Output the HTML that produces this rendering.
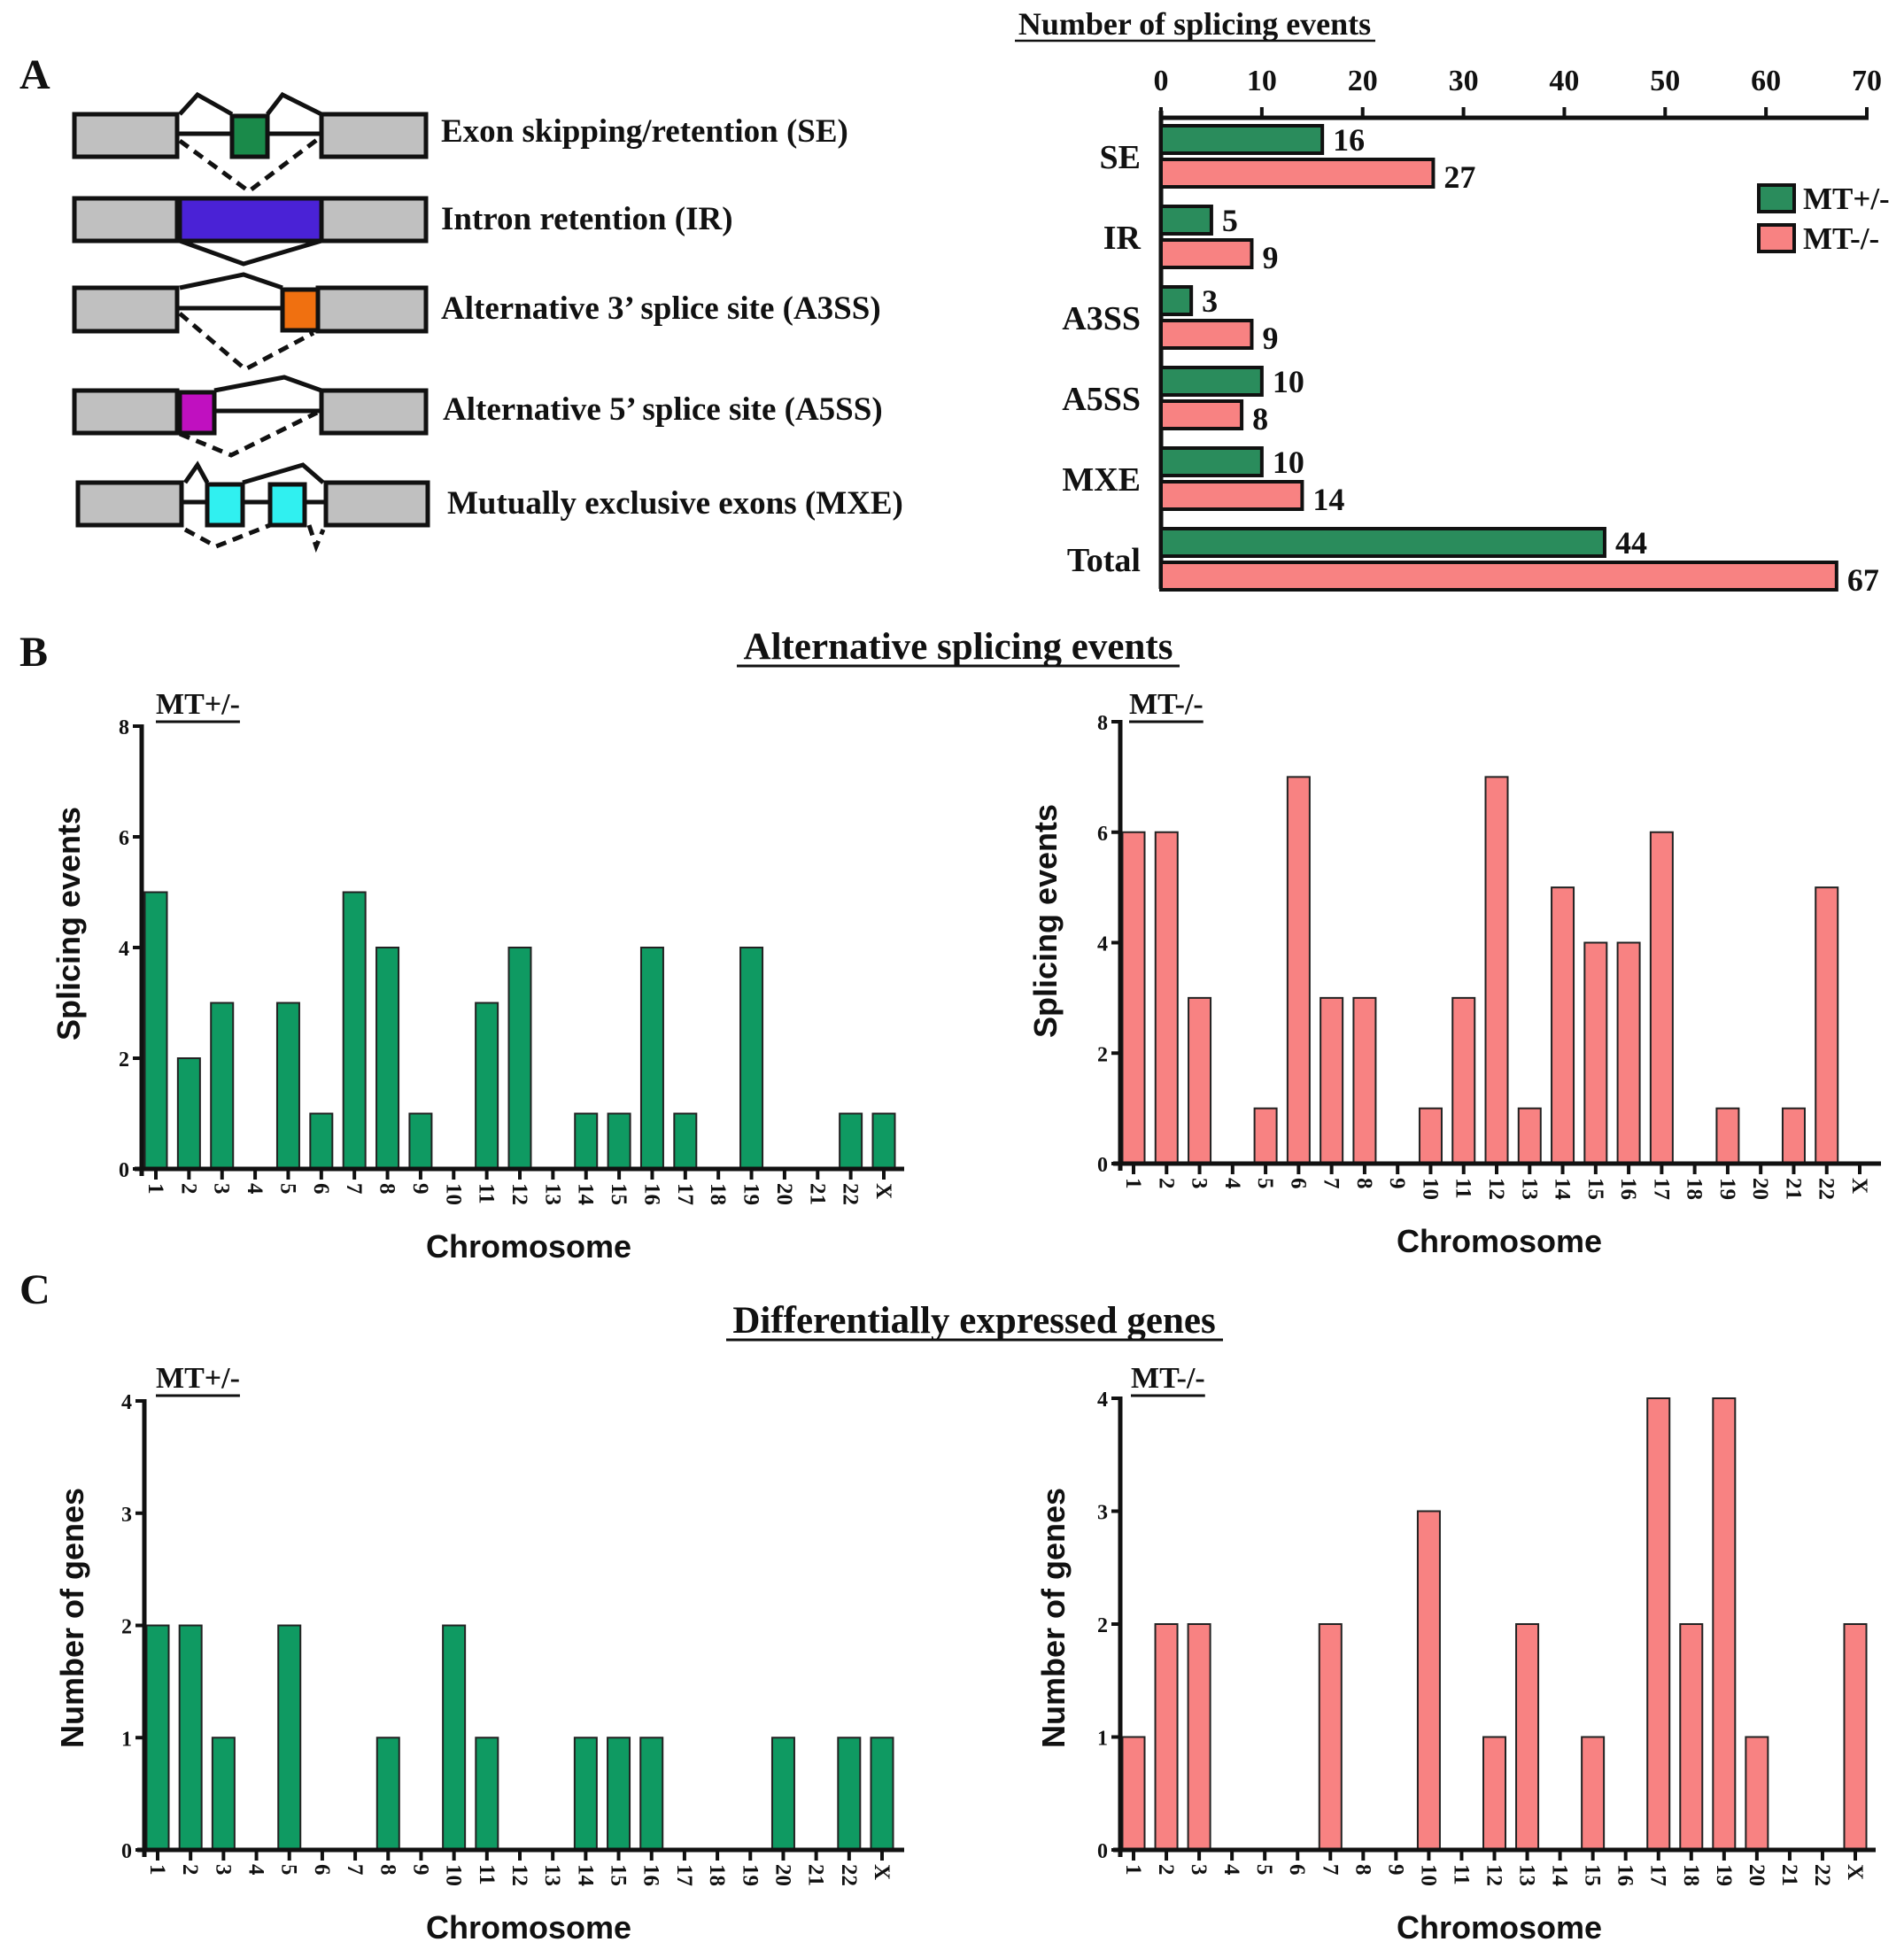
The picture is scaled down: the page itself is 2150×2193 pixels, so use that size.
<!DOCTYPE html>
<html><head><meta charset="utf-8"><style>
html,body{margin:0;padding:0;background:#fff}
svg{display:block}
.s{font-family:"Liberation Serif",serif;font-weight:bold;fill:#111}
.a{font-family:"Liberation Sans",sans-serif;font-weight:bold;fill:#111}
</style></head><body>
<svg id="fig" xmlns="http://www.w3.org/2000/svg" width="2150" height="2193" viewBox="0 0 2150 2193">
<g stroke="#111" stroke-width="5" fill="none">
<text class="s" x="22" y="100" font-size="48" stroke="none">A</text>
<path d="M203,129 L223,107 L262,129 M302,129 L319,107 L363,129"/>
<line x1="200" y1="151" x2="363" y2="151"/>
<path d="M203,159 L281,216 L363,154" stroke-dasharray="12,8"/>
<rect x="84" y="129" width="116" height="48" fill="#c0c0c0"/>
<rect x="363" y="129" width="118" height="48" fill="#c0c0c0"/>
<rect x="262" y="131" width="40" height="46" fill="#1a8a4a"/>
<text class="s" x="498" y="160" font-size="37" stroke="none">Exon skipping/retention (SE)</text>
<path d="M203,272 L275,298 L363,272"/>
<rect x="84" y="224" width="116" height="48" fill="#c0c0c0"/>
<rect x="363" y="224" width="118" height="48" fill="#c0c0c0"/>
<rect x="203" y="224" width="160" height="48" fill="#4a22d6"/>
<text class="s" x="498" y="259" font-size="37" stroke="none">Intron retention (IR)</text>
<path d="M203,325 L275,310 L319,325"/>
<line x1="200" y1="348" x2="319" y2="348"/>
<path d="M203,354 L277,417 L354,376" stroke-dasharray="12,8"/>
<rect x="84" y="325" width="116" height="49" fill="#c0c0c0"/>
<rect x="359" y="325" width="122" height="49" fill="#c0c0c0"/>
<rect x="319" y="327" width="40" height="46" fill="#f07010"/>
<text class="s" x="498" y="360" font-size="37" stroke="none">Alternative 3’ splice site (A3SS)</text>
<path d="M242,441 L321,426 L363,441"/>
<line x1="242" y1="464" x2="363" y2="464"/>
<path d="M203,490 L261,514 L358,466" stroke-dasharray="12,8"/>
<rect x="84" y="441" width="116" height="48" fill="#c0c0c0"/>
<rect x="363" y="441" width="118" height="48" fill="#c0c0c0"/>
<rect x="203" y="443" width="39" height="46" fill="#c010c0"/>
<text class="s" x="500" y="474" font-size="37" stroke="none">Alternative 5’ splice site (A5SS)</text>
<path d="M209,545 L223,525 L234,545 M274,545 L342,525 L365,545"/>
<line x1="205" y1="567" x2="368" y2="567"/>
<path d="M209,598 L244,617 L305,593 M349,593 L357,617 L365,598" stroke-dasharray="12,8"/>
<rect x="88" y="545" width="117" height="48" fill="#c0c0c0"/>
<rect x="368" y="545" width="115" height="48" fill="#c0c0c0"/>
<rect x="234" y="547" width="40" height="46" fill="#30f0f0"/>
<rect x="305" y="547" width="39" height="46" fill="#30f0f0"/>
<text class="s" x="505" y="580" font-size="37" stroke="none">Mutually exclusive exons (MXE)</text>
</g>
<g id="hbar"></g>
<g id="charts"></g>
</svg>
<script>
const NS="http://www.w3.org/2000/svg";
const hCats=["SE","IR","A3SS","A5SS","MXE","Total"];
const hHet=[16,5,3,10,10,44];
const hHom=[27,9,9,8,14,67];
const hTicks=[0,10,20,30,40,50,60,70];
const chroms=["1","2","3","4","5","6","7","8","9","10","11","12","13","14","15","16","17","18","19","20","21","22","X"];
const bHet=[5,2,3,0,3,1,5,4,1,0,3,4,0,1,1,4,1,0,4,0,0,1,1];
const bHom=[6,6,3,0,1,7,3,3,0,1,3,7,1,5,4,4,6,0,1,0,1,5,0];
const cHet=[2,2,1,0,2,0,0,1,0,2,1,0,0,1,1,1,0,0,0,1,0,1,1];
const cHom=[1,2,2,0,0,0,2,0,0,3,0,1,2,0,1,0,4,2,4,1,0,0,2];
const bTicks=[0,2,4,6,8];
const cTicks=[0,1,2,3,4];
const GREEN="#2a8c5c", PINK="#f88282", BGREEN="#0f9a62";
function el(tag,attrs,parent,txt){const e=document.createElementNS(NS,tag);for(const k in attrs)e.setAttribute(k,attrs[k]);if(txt!==undefined)e.textContent=txt;parent.appendChild(e);return e;}

const hg=document.getElementById('hbar');
const hx=v=>1311+v*(2108-1311)/70;
const hy=i=>142+i*91;
let t=el('text',{class:'s',x:1349,y:39,'font-size':36,'text-anchor':'middle'},hg,'Number of splicing events');

el('line',{x1:1146,y1:46,x2:1553,y2:46,stroke:'#111','stroke-width':2.5},hg);
let ax=el('path',{d:`M1311,125 L1311,665 M1309,133 L2110,133`,stroke:'#111','stroke-width':5,fill:'none'},hg);

hTicks.forEach(v=>{el('line',{x1:hx(v),y1:121,x2:hx(v),y2:133,stroke:'#111','stroke-width':4},hg);
 const tt=el('text',{class:'s',x:hx(v),y:102,'font-size':34,'text-anchor':'middle'},hg,String(v));
 });
hCats.forEach((c,i)=>{const y=hy(i);
 const r1=el('rect',{x:hx(0),y:y,width:hx(hHet[i])-hx(0),height:31,fill:GREEN,stroke:'#111','stroke-width':4},hg);
 
 const r2=el('rect',{x:hx(0),y:y+38,width:hx(hHom[i])-hx(0),height:31,fill:PINK,stroke:'#111','stroke-width':4},hg);
 
 const l1=el('text',{class:'s',x:hx(hHet[i])+12,y:y+28,'font-size':36},hg,String(hHet[i]));
 
 const l2=el('text',{class:'s',x:hx(hHom[i])+12,y:y+38+32,'font-size':36},hg,String(hHom[i]));
 
 const cl=el('text',{class:'s',x:1288,y:y+48,'font-size':38,'text-anchor':'end'},hg,c);
 
});
let lg=el('g',{},hg);

el('rect',{x:1986,y:209,width:40,height:30,fill:GREEN,stroke:'#111','stroke-width':4},lg);
el('rect',{x:1986,y:254,width:40,height:30,fill:PINK,stroke:'#111','stroke-width':4},lg);
let le1=el('text',{class:'s',x:2036,y:236,'font-size':35},lg,'MT+/-');

let le2=el('text',{class:'s',x:2036,y:281,'font-size':35},lg,'MT-/-');


const cg=document.getElementById('charts');
function label(txt,x,y,size,name,anchor){const e=el('text',{class:'s',x:x,y:y,'font-size':size,'text-anchor':anchor||'start'},cg,txt);return e;}
label('B',22,752,48,'panel-label-b');
label('Alternative splicing events',1082,744,43,'panel-b-title','middle');
el('line',{x1:832,y1:752,x2:1332,y2:752,stroke:'#111','stroke-width':3},cg);
label('C',22,1472,48,'panel-label-c');
label('Differentially expressed genes',1100,1505,43,'panel-c-title','middle');
el('line',{x1:820,y1:1513,x2:1381,y2:1513,stroke:'#111','stroke-width':3},cg);

function chart(o){
 const g=el('g',{},cg);
 
 const max=o.ticks[o.ticks.length-1];
 const yS=v=>o.y0-(o.y0-o.yTop)*v/max;
 const xS=i=>o.x1+i*(o.xN-o.x1)/(chroms.length-1);
 o.vals.forEach((v,i)=>{ if(v<=0) return;
  const b=el('rect',{x:xS(i)-12.5,y:yS(v),width:25,height:o.y0-yS(v),fill:o.color,stroke:'#222','stroke-width':2},g);
  });
 el('line',{x1:o.ax,y1:o.yTop-2,x2:o.ax,y2:o.y0+8,stroke:'#111','stroke-width':5},g);
 el('line',{x1:o.ax-8,y1:o.y0,x2:o.xEnd,y2:o.y0,stroke:'#111','stroke-width':5},g);
 o.ticks.forEach(v=>{el('line',{x1:o.ax-10,y1:yS(v),x2:o.ax,y2:yS(v),stroke:'#111','stroke-width':4},g);
  const tl=el('text',{class:'s',x:o.ax-14,y:yS(v)+9,'font-size':24,'text-anchor':'end'},g,String(v));
  });
 chroms.forEach((c,i)=>{el('line',{x1:xS(i),y1:o.y0,x2:xS(i),y2:o.y0+12,stroke:'#111','stroke-width':4},g);
  const tl=el('text',{class:'s',x:0,y:0,'font-size':25,transform:`translate(${xS(i)-8},${o.y0+16}) rotate(90)`},g,c);
  });
 const xt=el('text',{class:'a',x:o.xtX,y:o.y0+100,'font-size':36,'text-anchor':'middle'},g,'Chromosome');
 
 const yt=el('text',{class:'a',x:0,y:0,'font-size':36,'text-anchor':'middle',transform:`translate(${o.ytX},${o.ytY}) rotate(-90)`},g,o.ytitle);
 
 const st=el('text',{class:'s',x:o.stX,y:o.stY,'font-size':34},g,o.sub);
 
 el('line',{x1:o.stX,y1:o.stY+9,x2:o.stX+st.getComputedTextLength(),y2:o.stY+9,stroke:'#111','stroke-width':3},g);
}
chart({name:'b-het-chart',vals:bHet,ticks:bTicks,color:BGREEN,ax:160,y0:1320,yTop:820,x1:176,xN:998,xEnd:1021,xtX:597,ytX:90,ytY:1043,ytitle:'Splicing events',sub:'MT+/-',stX:176,stY:806});
chart({name:'b-hom-chart',vals:bHom,ticks:bTicks,color:PINK,ax:1265,y0:1314,yTop:815,x1:1280,xN:2100,xEnd:2124,xtX:1693,ytX:1193,ytY:1040,ytitle:'Splicing events',sub:'MT-/-',stX:1275,stY:806});
chart({name:'c-het-chart',vals:cHet,ticks:cTicks,color:BGREEN,ax:163,y0:2089,yTop:1582,x1:178,xN:996,xEnd:1021,xtX:597,ytX:94,ytY:1827,ytitle:'Number of genes',sub:'MT+/-',stX:176,stY:1567});
chart({name:'c-hom-chart',vals:cHom,ticks:cTicks,color:PINK,ax:1265,y0:2089,yTop:1579,x1:1280,xN:2095,xEnd:2118,xtX:1693,ytX:1202,ytY:1827,ytitle:'Number of genes',sub:'MT-/-',stX:1277,stY:1567});
</script>
</body></html>
